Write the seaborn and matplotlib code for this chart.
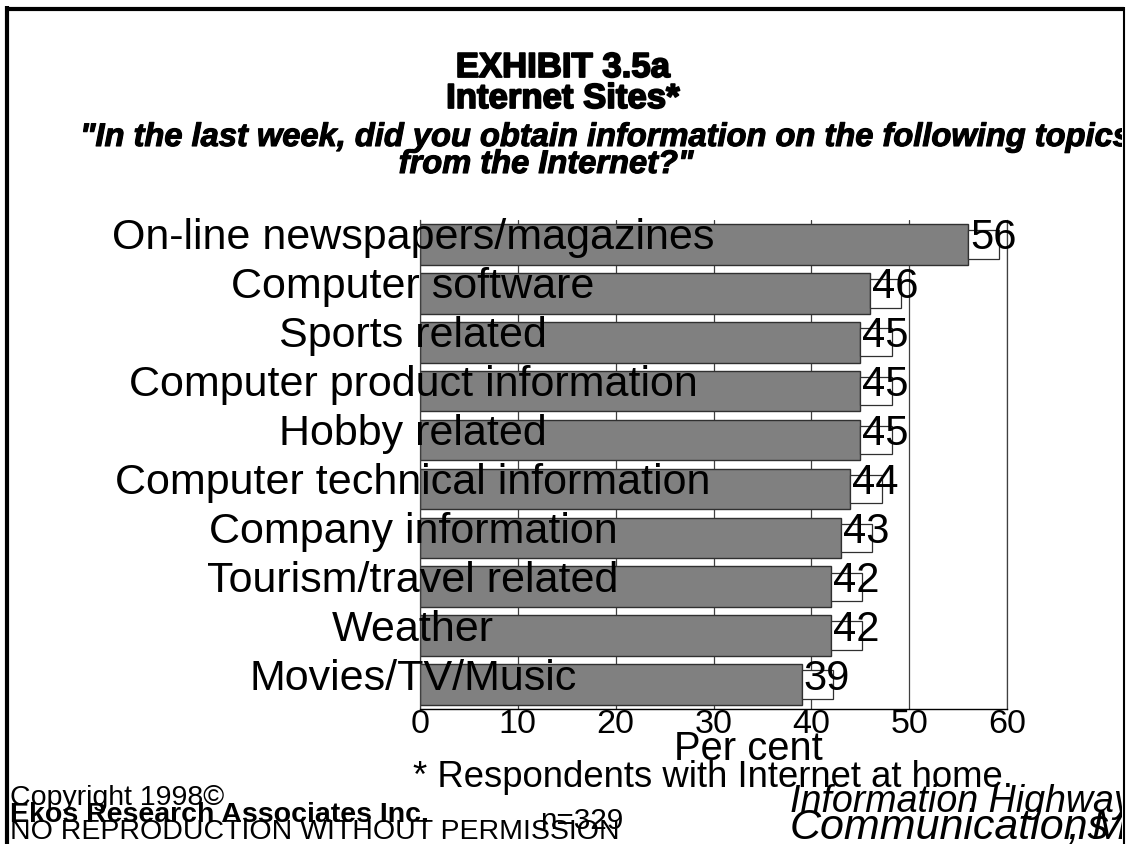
import matplotlib
matplotlib.use("Agg")
import matplotlib.pyplot as plt
import matplotlib.transforms as mtransforms
import matplotlib.patheffects as pe
from matplotlib import font_manager
from matplotlib.patches import Rectangle
from matplotlib.lines import Line2D
import seaborn as sns
import pandas as pd

# ---- data -------------------------------------------------------------
topics = [
    "On-line newspapers/magazines",
    "Computer software",
    "Sports related",
    "Computer product information",
    "Hobby related",
    "Computer technical information",
    "Company information",
    "Tourism/travel related",
    "Weather",
    "Movies/TV/Music",
]
percent = [56, 46, 45, 45, 45, 44, 43, 42, 42, 39]
x_ticks = [0, 10, 20, 30, 40, 50, 60]

title_lines = ["EXHIBIT 3.5a", "Internet Sites*"]
question_lines = [
    "\"In the last week, did you obtain information on the following topics",
    "from the Internet?\"",
]
footnote = "* Respondents with Internet at home."
sample_note = "n=329"
copyright_lines = ["Copyright 1998\u00a9", "Ekos Research Associates Inc.",
                   "NO REPRODUCTION WITHOUT PERMISSION"]
source_lines = ["Information Highway", "Communications", ", May 1998"]

# ---- style ------------------------------------------------------------
sns.set_theme(style="white")
plt.rcParams["font.family"] = ["Liberation Sans", "DejaVu Sans"]
plt.rcParams["text.color"] = "black"
plt.rcParams["xtick.color"] = "black"
plt.rcParams["axes.labelcolor"] = "black"

_installed = {f.name for f in font_manager.fontManager.ttflist}
_has_narrow = "Liberation Sans Narrow" in _installed


def narrow(size):
    """Condensed face for axis and footer text."""
    if _has_narrow:
        return dict(family=["Liberation Sans Narrow", "DejaVu Sans"], fontsize=size)
    return dict(family=["Liberation Sans", "DejaVu Sans"], fontsize=size * 0.82)


W, H = 1127, 844
fig = plt.figure(figsize=(W / 100, H / 100), dpi=100)
fig.patch.set_facecolor("white")


def fx(px):
    return px / W


def fy(py):
    return 1 - py / H


ax = fig.add_axes([fx(420), fy(709), fx(1007) - fx(420), fy(220) - fy(709)])

df = pd.DataFrame({"topic": topics, "percent": percent})
sns.barplot(data=df, x="percent", y="topic", orient="h", color="#808080",
            saturation=1, edgecolor="#303030", linewidth=1.0, width=0.83, ax=ax)

ax.set_xlim(0, 60)
ax.set_xticks(x_ticks)
ax.set_xticklabels([str(t) for t in x_ticks], **narrow(30))
ax.tick_params(axis="x", length=0, pad=0, colors="black")
ax.set_yticks(range(len(topics)))
ax.set_yticklabels([])
ax.tick_params(axis="y", length=0)
ax.set_ylabel("")

ax.set_axisbelow(True)
ax.grid(axis="x", color="#404040", linewidth=0.9)
ax.grid(axis="y", visible=False)
ax.spines["top"].set_visible(False)
for side in ["left", "right"]:
    ax.spines[side].set_visible(True)
    ax.spines[side].set_color("#404040")
    ax.spines[side].set_linewidth(0.9)
ax.spines["bottom"].set_color("black")
ax.spines["bottom"].set_linewidth(1.0)

ax.set_xlabel("Per cent", color="black", **narrow(35))
ax.xaxis.set_label_coords(0.5588, -0.042)

# category labels centred just left of the value axis
lab_tr = mtransforms.blended_transform_factory(ax.transAxes, ax.transData) + \
    mtransforms.ScaledTranslation(-7 / 100, -5 / 100, fig.dpi_scale_trans)
for i, name in enumerate(topics):
    ax.text(0, i, name, transform=lab_tr, ha="center", va="baseline",
            fontsize=31, color="black", zorder=5, clip_on=False)

# value labels in small white boxes at the end of each bar
val_tr = ax.transData + mtransforms.ScaledTranslation(2 / 100, -5 / 100, fig.dpi_scale_trans)
for i, v in enumerate(percent):
    ax.add_patch(Rectangle((v, i - 0.29), 3.2, 0.58, facecolor="white",
                           edgecolor="#303030", linewidth=0.9, zorder=3, clip_on=False))
    ax.text(v, i, str(v), transform=val_tr, ha="left", va="baseline",
            fontsize=30, color="black", zorder=6, clip_on=False)

# ---- headings ---------------------------------------------------------
clip = mtransforms.TransformedBbox(mtransforms.Bbox.from_extents(0, 0, fx(1122), 1),
                                   fig.transFigure)
heavy = [pe.withStroke(linewidth=1.3, foreground="black")]
fig.text(fx(563), fy(77), title_lines[0], ha="center", va="baseline",
         fontsize=25, fontweight="bold", color="black", path_effects=heavy)
fig.text(fx(563), fy(108), title_lines[1], ha="center", va="baseline",
         fontsize=25, fontweight="bold", color="black", path_effects=heavy)
q_effect = [pe.withStroke(linewidth=0.8, foreground="black")]
q1 = fig.text(fx(80), fy(146), question_lines[0], ha="left", va="baseline",
              fontsize=23.5, fontweight="bold", fontstyle="italic", color="black",
              path_effects=q_effect)
q1.set_clip_box(clip)
q1.set_clip_on(True)
fig.text(fx(546), fy(173), question_lines[1], ha="center", va="baseline",
         fontsize=23.5, fontweight="bold", fontstyle="italic", color="black",
         path_effects=q_effect)

# ---- footer -----------------------------------------------------------
fig.text(fx(413), fy(787), footnote, ha="left", va="baseline", **narrow(32))
fig.text(fx(10), fy(805), copyright_lines[0], ha="left", va="baseline", **narrow(25))
fig.text(fx(10), fy(822), copyright_lines[1], ha="left", va="baseline",
         fontweight="bold", **narrow(25))
fig.text(fx(10), fy(839), copyright_lines[2], ha="left", va="baseline", **narrow(25))
fig.text(fx(540), fy(829), sample_note, ha="left", va="baseline", **narrow(26))

src_specs = [
    (source_lines[0], 790, 812, narrow(33)),
    (source_lines[1], 790, 839, dict(family=["Liberation Sans", "DejaVu Sans"], fontsize=31)),
    (source_lines[2], 1068, 839, dict(family=["Liberation Sans", "DejaVu Sans"], fontsize=31)),
]
for txt, x0, y0, kw in src_specs:
    t = fig.text(fx(x0), fy(y0), txt, ha="left", va="baseline", fontstyle="italic", **kw)
    t.set_clip_box(clip)
    t.set_clip_on(True)

# ---- page frame -------------------------------------------------------
frame = dict(color="black", solid_capstyle="butt", transform=fig.transFigure)
fig.add_artist(Line2D([fx(7), fx(7)], [fy(6), 0], linewidth=3.0, **frame))
fig.add_artist(Line2D([fx(5), fx(1124)], [fy(8.5), fy(8.5)], linewidth=3.0, **frame))
fig.add_artist(Line2D([fx(1123.5), fx(1123.5)], [fy(7), 0], linewidth=1.5, **frame))

fig.savefig("out.png", dpi=100, facecolor="white")
